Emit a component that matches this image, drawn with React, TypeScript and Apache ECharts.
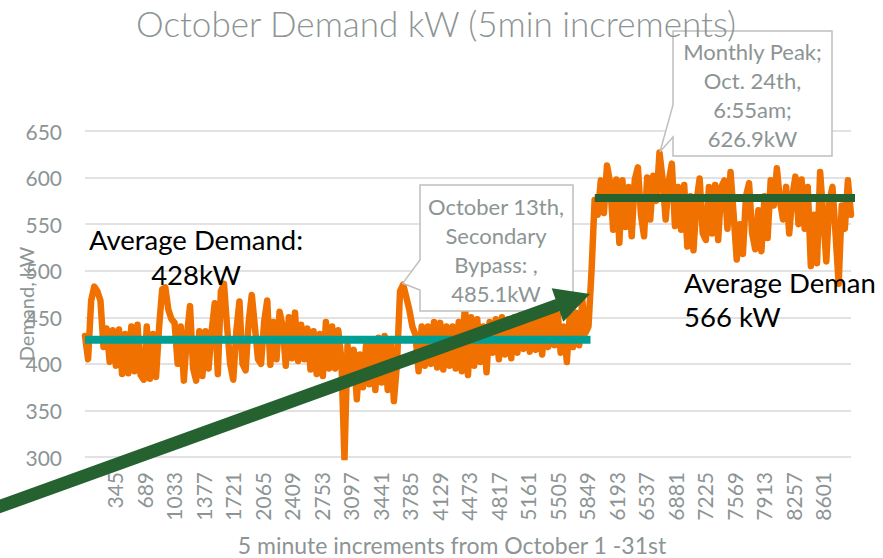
import React, { useEffect, useRef } from 'react';
import * as echarts from 'echarts';

const chartTitle = 'October Demand kW (5min increments)';
const xAxisTitle = '5 minute increments from October 1 -31st';
const yAxisTitle = 'Demand, kW';

// one reading kept every 36 five-minute samples (3 h), 8928 samples in October
const samplesPerPoint = 36;
const totalSamples = 8928;
const labelStep = 344;
const yMin = 300;
const yMax = 650;
const yStep = 50;

const demandKW = [
  430, 405, 468, 483, 478, 468, 418, 438, 402, 436,
  398, 437, 389, 432, 390, 440, 392, 442, 388, 383,
  440, 384, 432, 386, 440, 480, 482, 458, 448, 444,
  400, 440, 382, 430, 462, 395, 382, 435, 387, 435,
  395, 435, 465, 389, 478, 486, 440, 400, 383, 435,
  467, 400, 393, 445, 474, 440, 405, 400, 445, 468,
  399, 445, 405, 456, 440, 398, 450, 406, 455, 403,
  442, 405, 438, 394, 435, 389, 432, 387, 445, 395,
  440, 395, 436, 405, 298, 420, 380, 415, 362, 410,
  375, 420, 378, 422, 372, 428, 380, 430, 372, 425,
  360, 400, 478, 485.1, 472, 458, 440, 431, 392, 440,
  398, 440, 400, 445, 396, 444, 394, 440, 398, 440,
  395, 445, 392, 465, 388, 450, 398, 448, 402, 440,
  391, 445, 412, 448, 405, 450, 410, 448, 406, 450,
  412, 452, 416, 448, 413, 450, 415, 452, 410, 450,
  418, 456, 420, 458, 412, 440, 402, 455, 418, 455,
  420, 469, 433, 440, 500, 576, 560, 597, 562, 613,
  595, 544, 598, 530, 597, 547, 590, 537, 598, 611,
  560, 537, 600, 555, 602, 575, 626.9, 598, 555, 596,
  615, 548, 590, 544, 592, 526, 580, 522, 575, 599,
  540, 533, 590, 540, 592, 533, 590, 597, 545, 606,
  560, 512, 550, 518, 580, 594, 540, 523, 565, 521,
  580, 535, 597, 570, 610, 575, 555, 590, 540, 580,
  601, 550, 598, 545, 590, 505, 560, 508, 606, 560,
  510, 575, 590, 540, 486, 570, 545, 597, 560,
];

const avgBeforeValue = 426;
const avgBeforeRange = [0, 5892];
const avgAfterValue = 578;
const avgAfterRange = [5942, 9018];

const avgBeforeText = ['Average Demand:', '428kW'];
const avgAfterText = ['Average Demand:', '566 kW'];
const bypassCallout = ['October 13th,', 'Secondary', 'Bypass: ,', '485.1kW'];
const peakCallout = ['Monthly Peak;', 'Oct. 24th,', '6:55am;', '626.9kW'];

const FONT = 'Lato, "Open Sans", sans-serif';
const GRAY = '#8c9494';
const ORANGE = '#f07000';
const TEAL = '#009f92';
const GREEN = '#266130';

export default function App() {
  const ref = useRef<HTMLDivElement>(null);

  useEffect(() => {
    if (!ref.current) return;
    const chart = echarts.init(ref.current, undefined, { renderer: 'svg' });

    const demandData = demandKW.map((v, i) => [i * samplesPerPoint, v]);

    const calloutLines = (lines: string[], cx: number, y0: number, lh: number) =>
      lines.map((t, k) => ({
        type: 'text',
        z: 60,
        style: {
          text: t,
          x: cx,
          y: y0 + k * lh,
          textAlign: 'center',
          textVerticalAlign: 'middle',
          fill: GRAY,
          font: `22px ${FONT}`,
        },
      }));

    chart.setOption({
      animation: false,
      backgroundColor: '#ffffff',
      grid: {
        left: 85,
        right: 32,
        top: 131,
        bottom: 101,
        containLabel: false,
        outerBoundsMode: 'none',
      },
      xAxis: {
        type: 'value',
        min: 0,
        max: totalSamples,
        interval: labelStep,
        axisLine: { show: false },
        axisTick: { show: false },
        splitLine: { show: false },
        axisLabel: {
          rotate: 90,
          margin: 15,
          color: GRAY,
          fontSize: 21,
          fontFamily: FONT,
          showMaxLabel: false,
          formatter: (v: number) => (v > 0 && v % labelStep === 0 ? String(v + 1) : ''),
        },
      },
      yAxis: {
        type: 'value',
        min: yMin,
        max: yMax,
        interval: yStep,
        name: yAxisTitle,
        nameLocation: 'middle',
        nameRotate: 90,
        nameGap: 49,
        nameMoveOverlap: false,
        nameTextStyle: { color: GRAY, fontSize: 20, fontFamily: FONT, padding: [0, 20, 0, 0] },
        axisLine: { show: false },
        axisTick: { show: false },
        splitLine: { lineStyle: { color: '#d9d9d9', width: 1.5 } },
        axisLabel: { color: GRAY, fontSize: 21, fontFamily: FONT, margin: 23 },
      },
      series: [
        {
          type: 'line',
          data: demandData,
          symbol: 'none',
          z: 2,
          lineStyle: { color: ORANGE, width: 6.5, cap: 'round', join: 'round' },
        },
        {
          type: 'line',
          data: avgBeforeRange.map((x) => [x, avgBeforeValue]),
          symbol: 'none',
          z: 3,
          clip: false,
          lineStyle: { color: TEAL, width: 8 },
        },
        {
          type: 'line',
          data: avgAfterRange.map((x) => [x, avgAfterValue]),
          symbol: 'none',
          z: 3,
          clip: false,
          lineStyle: { color: GREEN, width: 8 },
        },
      ],
      graphic: [
        {
          type: 'text',
          z: 60,
          style: {
            text: chartTitle,
            x: 436,
            y: 23,
            textAlign: 'center',
            textVerticalAlign: 'middle',
            fill: GRAY,
            font: `300 35px ${FONT}`,
          },
        },
        {
          type: 'text',
          z: 60,
          style: {
            text: xAxisTitle,
            x: 452,
            y: 545,
            textAlign: 'center',
            textVerticalAlign: 'middle',
            fill: GRAY,
            font: `23px ${FONT}`,
          },
        },
        // callout: October 13th
        {
          type: 'polygon',
          z: 50,
          shape: {
            points: [
              [420, 185], [573, 185], [573, 311], [420, 311], [420, 290], [402.7, 283.3], [420, 260],
            ],
          },
          style: { fill: '#ffffff', stroke: '#bfbfbf', lineWidth: 1.5 },
        },
        ...calloutLines(bypassCallout, 496, 206, 29),
        // callout: Monthly peak
        {
          type: 'polygon',
          z: 50,
          shape: {
            points: [
              [673, 31], [832, 31], [832, 156], [673, 156], [673, 137], [660, 151.7], [673, 105],
            ],
          },
          style: { fill: '#ffffff', stroke: '#bfbfbf', lineWidth: 1.5 },
        },
        ...calloutLines(peakCallout, 752.5, 51, 29),
        // average labels
        {
          type: 'text',
          z: 60,
          style: {
            text: avgBeforeText.join('\n'),
            x: 196,
            y: 257,
            textAlign: 'center',
            textVerticalAlign: 'middle',
            fill: '#000000',
            font: `27.5px ${FONT}`,
            lineHeight: 35,
          },
        },
        {
          type: 'text',
          z: 60,
          style: {
            text: avgAfterText[0],
            x: 684,
            y: 282,
            width: 194,
            overflow: 'truncate',
            ellipsis: '',
            textAlign: 'left',
            textVerticalAlign: 'middle',
            fill: '#000000',
            font: `27.5px ${FONT}`,
          },
        },
        {
          type: 'text',
          z: 60,
          style: {
            text: avgAfterText[1],
            x: 684,
            y: 316,
            textAlign: 'left',
            textVerticalAlign: 'middle',
            fill: '#000000',
            font: `27.5px ${FONT}`,
          },
        },
        // arrow
        {
          type: 'line',
          z: 70,
          shape: { x1: -10, y1: 510, x2: 558, y2: 305 },
          style: { stroke: GREEN, lineWidth: 13 },
        },
        {
          type: 'polygon',
          z: 70,
          shape: { points: [[551.7, 288.3], [590, 294], [563.3, 321.7]] },
          style: { fill: GREEN },
        },
      ],
    });

    return () => chart.dispose();
  }, []);

  return (
    <div
      ref={ref}
      style={{ position: 'fixed', left: 0, top: 0, width: 883, height: 558 }}
    />
  );
}
